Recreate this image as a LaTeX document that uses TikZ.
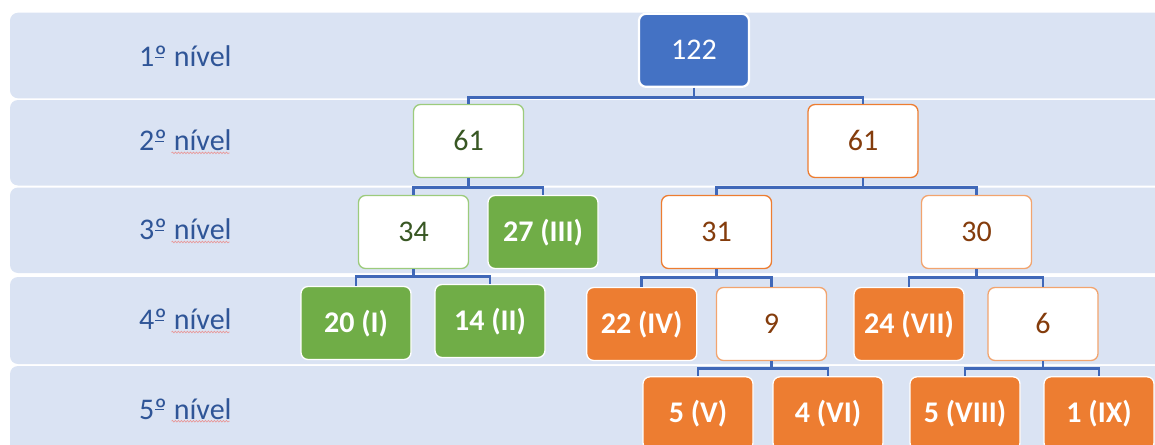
\documentclass[tikz,border=0pt]{standalone}
\usepackage{fontspec}
\setmainfont{Carlito}
\usetikzlibrary{decorations.pathmorphing}
\definecolor{bandfill}{HTML}{DAE3F3}
\definecolor{labelblue}{HTML}{2F5597}
\definecolor{accblue}{HTML}{4472C4}
\definecolor{linkblue}{HTML}{4068B8}
\definecolor{accgreen}{HTML}{70AD47}
\definecolor{lightgreen}{HTML}{9CCB7C}
\definecolor{accorange}{HTML}{ED7D31}
\definecolor{lightorange}{HTML}{F2A46E}
\definecolor{darkgreen}{HTML}{385723}
\definecolor{darkbrown}{HTML}{843C0C}
\definecolor{squiggle}{HTML}{E89A9A}
% masculine ordinal with its underbar
\newcommand\ordbar{\makebox[0pt][l]{\hspace{0.02em}\rule[0.29em]{0.29em}{0.05em}}º}
\begin{document}
\begin{tikzpicture}[x=1pt,y=-1pt,
  band/.style={fill=bandfill, rounded corners=8pt},
  lvl/.style={anchor=base west, inner sep=0pt, text=labelblue,
    font=\fontsize{30}{36}\selectfont},
  spell/.style={draw=squiggle, line width=0.7pt,
    decorate, decoration={snake, amplitude=0.8pt, segment length=3pt}},
  box/.style={rounded corners=7pt, minimum width=110pt, minimum height=73pt,
    inner sep=0pt, text height=19pt, text depth=0pt, line width=1.3pt,
    font=\fontsize{30}{36}\selectfont},
  rootbox/.style={box, fill=accblue, draw=white, line width=2.2pt, text=white},
  gopen/.style={box, fill=white, draw=lightgreen, text=darkgreen},
  oopen/.style={box, fill=white, draw=accorange, text=darkbrown},
  olight/.style={box, fill=white, draw=lightorange, text=darkbrown},
  gleaf/.style={box, fill=accgreen, draw=white, text=white,
    font=\fontsize{30}{36}\selectfont\bfseries},
  oleaf/.style={box, fill=accorange, draw=white, text=white,
    font=\fontsize{30}{36}\selectfont\bfseries},
  conn/.style={draw=linkblue, line width=2.7pt}
]
\useasboundingbox (0,0) rectangle (1155,444);
\clip (0,0) rectangle (1155,444);

% level bands
\fill[band] (10,12.7) rectangle (1175,98.3);
\fill[band] (10,100) rectangle (1175,185.5);
\fill[band] (10,187.5) rectangle (1175,273);
\fill[band] (10,277) rectangle (1175,364);
\fill[band] (10,366) rectangle (1175,470);

% level labels
\node[lvl] (l1) at (139,66.7) {1\ordbar{} nível};
\node[lvl] (l2) at (139,150.7) {2\ordbar{} nível};
\node[lvl] (l3) at (139,239.8) {3\ordbar{} nível};
\node[lvl] (l4) at (139,329.8) {4\ordbar{} nível};
\node[lvl] (l5) at (139,419) {5\ordbar{} nível};
\foreach \l in {l2,l3,l4,l5}
  \draw[spell] ([shift={(32.5,2.2)}]\l.base west) -- ++(58,0);

% tree nodes
\node[rootbox] (r) at (694,50.3) {122};

\node[gopen] (a) at (468.5,141) {61};
\node[oopen] (b) at (863,141) {61};

\node[gopen] (a1) at (413.5,232) {34};
\node[gleaf] (a2) at (543,232) {27 (III)};
\node[oopen] (b1) at (716.5,232) {31};
\node[olight] (b2) at (976.5,232) {30};

\node[gleaf] (a11) at (356,323) {20 (I)};
\node[gleaf] (a12) at (490,321) {14 (II)};
\node[oleaf] (b11) at (641.7,324) {22 (IV)};
\node[olight] (b12) at (771.5,324) {9};
\node[oleaf] (b21) at (909,324) {24 (VII)};
\node[olight] (b22) at (1043,324) {6};

\node[oleaf] (b121) at (698,413.3) {5 (V)};
\node[oleaf] (b122) at (828,413.3) {4 (VI)};
\node[oleaf] (b221) at (965,413.3) {5 (VIII)};
\node[oleaf] (b222) at (1099,413.3) {1 (IX)};

% connectors
\foreach \c in {a,b} \draw[conn] (r.south) -- ++(0,9.3) -| (\c.north);
\foreach \c in {a1,a2} \draw[conn] (a.south) -- ++(0,9) -| (\c.north);
\foreach \c in {b1,b2} \draw[conn] (b.south) -- ++(0,9) -| (\c.north);
\foreach \c in {a11,a12} \draw[conn] (a1.south) -- ++(0,7.5) -| (\c.north);
\foreach \c in {b11,b12} \draw[conn] (b1.south) -- ++(0,8) -| (\c.north);
\foreach \c in {b21,b22} \draw[conn] (b2.south) -- ++(0,8) -| (\c.north);
\foreach \c in {b121,b122} \draw[conn] (b12.south) -- ++(0,7) -| (\c.north);
\foreach \c in {b221,b222} \draw[conn] (b22.south) -- ++(0,7) -| (\c.north);
\end{tikzpicture}
\end{document}
